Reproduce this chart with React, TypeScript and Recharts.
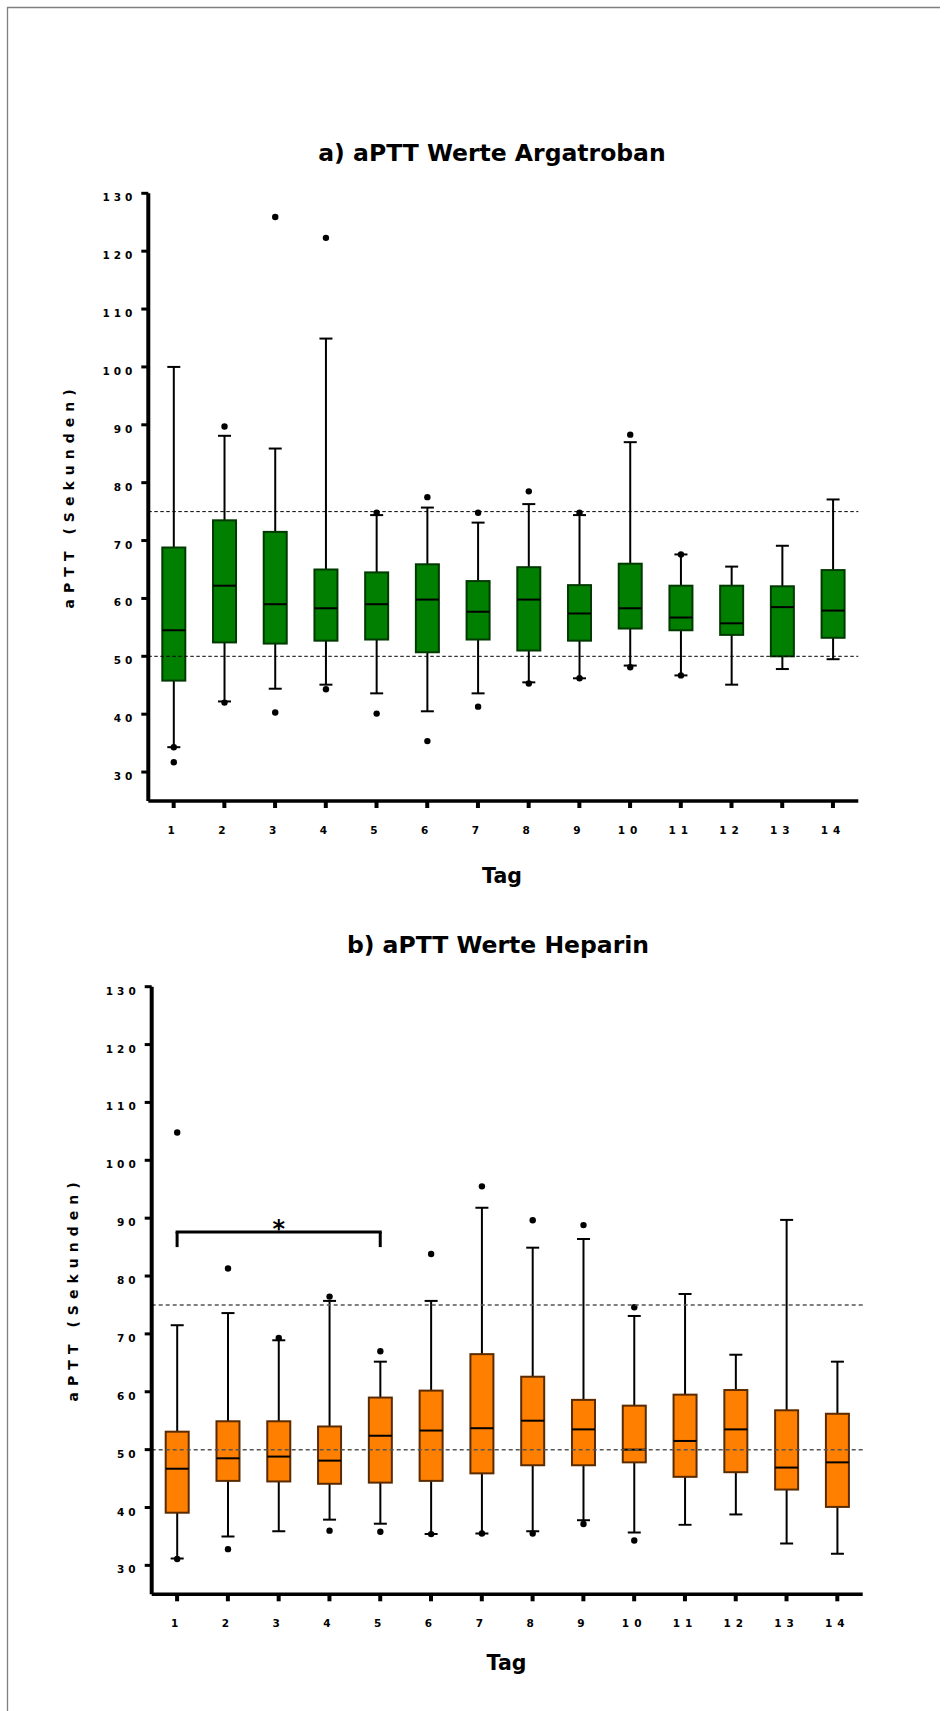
import React from "react";
import {
  ComposedChart,
  Bar,
  XAxis,
  YAxis,
  ReferenceLine,
  ReferenceDot,
} from "recharts";

// Tag 1..14
const days = ["1", "2", "3", "4", "5", "6", "7", "8", "9", "10", "11", "12", "13", "14"];
const yTicks = [30, 40, 50, 60, 70, 80, 90, 100, 110, 120, 130];
const targetRange = [50, 75];

// a) Argatroban
const argLow = [34.3, 42.2, 44.4, 45.1, 43.6, 40.5, 43.6, 45.5, 46.2, 48.4, 46.7, 45.1, 47.8, 49.5];
const argQ1 = [45.8, 52.4, 52.2, 52.7, 52.9, 50.7, 52.9, 51.0, 52.7, 54.8, 54.5, 53.7, 50.0, 53.2];
const argMed = [54.5, 62.2, 59.0, 58.3, 59.0, 59.8, 57.7, 59.8, 57.4, 58.3, 56.7, 55.7, 58.5, 57.9];
const argQ3 = [68.8, 73.5, 71.5, 65.0, 64.5, 65.9, 63.0, 65.4, 62.3, 66.0, 62.2, 62.2, 62.1, 64.9];
const argHigh = [100, 88.1, 85.9, 104.9, 74.4, 75.7, 73.1, 76.3, 74.4, 87.0, 67.6, 65.5, 69.1, 77.1];
const argOutliers = [
  [31.7, 34.3],
  [89.7, 42.0],
  [125.9, 40.3],
  [122.3, 44.3],
  [74.8, 40.1],
  [77.5, 35.35],
  [74.8, 41.3],
  [78.5, 45.3],
  [74.8, 46.2],
  [88.3, 48.1],
  [67.6, 46.7],
  [],
  [],
  [],
];

// b) Heparin
const hepLow = [31.2, 35.0, 35.9, 37.9, 37.2, 35.4, 35.5, 35.9, 37.8, 35.7, 37.0, 38.8, 33.8, 32.0];
const hepQ1 = [39.1, 44.6, 44.5, 44.1, 44.3, 44.6, 45.9, 47.3, 47.3, 47.8, 45.3, 46.1, 43.1, 40.1];
const hepMed = [46.7, 48.5, 48.8, 48.1, 52.4, 53.3, 53.7, 55.0, 53.5, 50.0, 51.5, 53.5, 46.9, 47.8];
const hepQ3 = [53.1, 54.9, 54.9, 54.0, 59.0, 60.2, 66.5, 62.6, 58.6, 57.6, 59.5, 60.3, 56.8, 56.2];
const hepHigh = [71.5, 73.6, 68.9, 75.7, 65.2, 75.7, 91.8, 84.9, 86.4, 73.1, 76.9, 66.4, 89.7, 65.2];
const hepOutliers = [
  [104.8, 31.1],
  [81.3, 32.8],
  [69.3],
  [76.45, 36.0],
  [67.0, 35.8],
  [83.8, 35.4],
  [95.5, 35.5],
  [89.65, 35.5],
  [88.8, 37.15],
  [74.6, 34.3],
  [],
  [],
  [],
  [],
];

// significance bracket Tag 1 vs Tag 5
const bracketFrom = "1";
const bracketTo = "5";
const bracketStar = "3";
const bracketY = 87.6;
const bracketLegY = 85;
const starY = 89.1;

function buildRows(
  low: number[],
  q1: number[],
  med: number[],
  q3: number[],
  high: number[],
  out: number[][]
) {
  return days.map((day, i) => ({
    day,
    low: low[i],
    q1: q1[i],
    med: med[i],
    q3: q3[i],
    high: high[i],
    out: out[i],
  }));
}

const argRows = buildRows(argLow, argQ1, argMed, argQ3, argHigh, argOutliers);
const hepRows = buildRows(hepLow, hepQ1, hepMed, hepQ3, hepHigh, hepOutliers);

const tickFont = "'DejaVu Sans', sans-serif";

const makeBox = (fill: string, edge: string) => (props: any) => {
  const { x, y, width, height, payload } = props;
  const { low, q1, med, q3, high, out } = payload;
  const top = Math.min(y, y + height);
  const ppu = Math.abs(height) / (high - low);
  const py = (v: number) => top + (high - v) * ppu;
  const cx = x + width / 2;
  const cap = 6.5;
  return (
    <g>
      <line x1={cx} x2={cx} y1={py(high)} y2={py(q3)} stroke="#000" strokeWidth={2} />
      <line x1={cx} x2={cx} y1={py(q1)} y2={py(low)} stroke="#000" strokeWidth={2} />
      <line x1={cx - cap} x2={cx + cap} y1={py(high)} y2={py(high)} stroke="#000" strokeWidth={2} />
      <line x1={cx - cap} x2={cx + cap} y1={py(low)} y2={py(low)} stroke="#000" strokeWidth={2} />
      <rect
        x={x}
        y={py(q3)}
        width={width}
        height={py(q1) - py(q3)}
        fill={fill}
        stroke={edge}
        strokeWidth={2}
      />
      <line x1={x} x2={x + width} y1={py(med)} y2={py(med)} stroke="#000" strokeWidth={2} />
      {out.map((v: number, k: number) => (
        <circle key={k} cx={cx} cy={py(v)} r={3.2} fill="#000" />
      ))}
    </g>
  );
};

const YTick = (props: any) => {
  const { x, y, payload } = props;
  return (
    <text
      x={x}
      y={y + 4}
      textAnchor="end"
      dominantBaseline="central"
      fontFamily={tickFont}
      fontWeight="bold"
      fontSize={10.5}
      letterSpacing={4}
      fill="#000"
    >
      {payload.value}
    </text>
  );
};

const XTick = (props: any) => {
  const { x, y, payload } = props;
  return (
    <text
      x={x}
      y={y + 20}
      textAnchor="middle"
      dominantBaseline="central"
      fontFamily={tickFont}
      fontWeight="bold"
      fontSize={10.5}
      letterSpacing={5}
      fill="#000"
    >
      {payload.value}
    </text>
  );
};

const StarShape = (props: any) => (
  <text
    x={props.cx}
    y={props.cy + 14}
    textAnchor="middle"
    fontFamily={tickFont}
    fontWeight="bold"
    fontSize={24}
    fill="#000"
  >
    *
  </text>
);

type PanelProps = {
  rows: any[];
  top: number;
  height: number;
  margin: { top: number; right: number; bottom: number; left: number };
  fill: string;
  edge: string;
  refStroke: string;
  refWidth: number;
  refDash: string;
  bracket?: boolean;
};

function Panel({ rows, top, height, margin, fill, edge, refStroke, refWidth, refDash, bracket }: PanelProps) {
  return (
    <div style={{ position: "absolute", left: 0, top, width: 950, height }}>
      <ComposedChart width={950} height={height} data={rows} margin={margin}>
        <XAxis
          dataKey="day"
          type="category"
          interval={0}
          height={30}
          tickSize={7}
          tickMargin={2}
          axisLine={{ stroke: "#000", strokeWidth: 3.5 }}
          tickLine={{ stroke: "#000", strokeWidth: 4 }}
          tick={<XTick />}
        />
        <YAxis
          type="number"
          domain={[25, 130]}
          ticks={yTicks}
          width={60}
          tickSize={7}
          tickMargin={5}
          axisLine={{ stroke: "#000", strokeWidth: 4 }}
          tickLine={{ stroke: "#000", strokeWidth: 3 }}
          tick={<YTick />}
          allowDataOverflow
        />
        {targetRange.map((v) => (
          <ReferenceLine
            key={v}
            y={v}
            stroke={refStroke}
            strokeWidth={refWidth}
            strokeDasharray={refDash}
          />
        ))}
        <Bar
          dataKey={(d: any) => [d.low, d.high]}
          barSize={23}
          shape={makeBox(fill, edge)}
          isAnimationActive={false}
        />
        {bracket && (
          <ReferenceLine
            segment={[
              { x: bracketFrom, y: bracketY },
              { x: bracketTo, y: bracketY },
            ]}
            stroke="#000"
            strokeWidth={3}
            strokeLinecap="square"
          />
        )}
        {bracket && (
          <ReferenceLine
            segment={[
              { x: bracketFrom, y: bracketY },
              { x: bracketFrom, y: bracketLegY },
            ]}
            stroke="#000"
            strokeWidth={3}
          />
        )}
        {bracket && (
          <ReferenceLine
            segment={[
              { x: bracketTo, y: bracketY },
              { x: bracketTo, y: bracketLegY },
            ]}
            stroke="#000"
            strokeWidth={3}
          />
        )}
        {bracket && <ReferenceDot x={bracketStar} y={starY} r={0} shape={<StarShape />} />}
      </ComposedChart>
    </div>
  );
}

export default function App() {
  const titleFont = "'DejaVu Sans', sans-serif";
  return (
    <div style={{ position: "absolute", left: 0, top: 0, width: 950, height: 1711, background: "#fff" }}>
      <Panel
        rows={argRows}
        top={0}
        height={900}
        margin={{ top: 193.3, right: 91.7, bottom: 69, left: 88.3 }}
        fill="#007f00"
        edge="#003a00"
        refStroke="#000"
        refWidth={1}
        refDash="3.5 2.5"
      />
      <Panel
        rows={hepRows}
        top={800}
        height={911}
        margin={{ top: 186.7, right: 87.3, bottom: 86.7, left: 91.7 }}
        fill="#ff8000"
        edge="#5a2a00"
        refStroke="#555"
        refWidth={1.5}
        refDash="4 3"
        bracket
      />
      <svg
        width={950}
        height={1711}
        style={{ position: "absolute", left: 0, top: 0, pointerEvents: "none" }}
      >
        <line x1={7.5} x2={7.5} y1={7} y2={1711} stroke="#7f7f7f" strokeWidth={1.3} />
        <line x1={7} x2={940} y1={7.5} y2={7.5} stroke="#7f7f7f" strokeWidth={1.3} />

        <text x={492} y={161} textAnchor="middle" fontFamily={titleFont} fontWeight="bold" fontSize={23.5} fill="#000">
          a) aPTT Werte Argatroban
        </text>
        <text x={498} y={953} textAnchor="middle" fontFamily={titleFont} fontWeight="bold" fontSize={23.5} fill="#000">
          b) aPTT Werte Heparin
        </text>

        <text x={502} y={883} textAnchor="middle" fontFamily={titleFont} fontWeight="bold" fontSize={20.5} fill="#000">
          Tag
        </text>
        <text x={506.5} y={1670} textAnchor="middle" fontFamily={titleFont} fontWeight="bold" fontSize={20.5} fill="#000">
          Tag
        </text>

        <text
          x={68.7}
          y={496}
          transform="rotate(-90, 68.7, 496)"
          textAnchor="middle"
          dominantBaseline="central"
          fontFamily={titleFont}
          fontWeight="bold"
          fontSize={14}
          letterSpacing={6}
          fill="#000"
        >
          aPTT (Sekunden)
        </text>
        <text
          x={72.5}
          y={1289}
          transform="rotate(-90, 72.5, 1289)"
          textAnchor="middle"
          dominantBaseline="central"
          fontFamily={titleFont}
          fontWeight="bold"
          fontSize={14}
          letterSpacing={6}
          fill="#000"
        >
          aPTT (Sekunden)
        </text>
      </svg>
    </div>
  );
}
